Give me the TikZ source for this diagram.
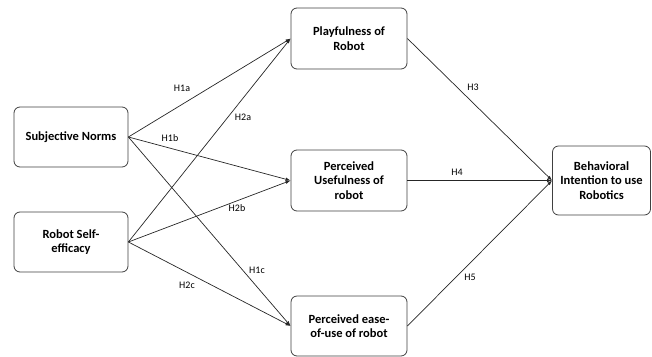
\documentclass[tikz,border=0pt]{standalone}
\usepackage{fontspec}
\setmainfont{Carlito}
\usetikzlibrary{arrows.meta}
\begin{document}
\begin{tikzpicture}[x=1pt,y=-1pt,
  box/.style={draw=black!75, line width=0.8pt, rounded corners=6pt, fill=white,
    font=\bfseries\fontsize{12.5}{14.5}\selectfont, align=center, inner sep=0pt},
  conn/.style={draw=black!85, line width=0.7pt, -{Latex[length=5pt,width=3.5pt]}},
  lbl/.style={font=\fontsize{10}{11}\selectfont, inner sep=0pt}]
\useasboundingbox (0,0) rectangle (652,356);
\node[box, minimum width=114pt, minimum height=60pt] (sn) at (71,137) {Subjective Norms};
\node[box, minimum width=114pt, minimum height=60pt] (se) at (71,242) {Robot Self-\\efficacy};
\node[box, minimum width=116pt, minimum height=61pt] (pr) at (349,38.5) {Playfulness of\\Robot};
\node[box, minimum width=116pt, minimum height=61pt] (pu) at (349,180.5) {Perceived\\Usefulness of\\robot};
\node[box, minimum width=116pt, minimum height=60pt] (pe) at (349,326) {Perceived ease-\\of-use of robot};
\node[box, minimum width=98pt, minimum height=69pt] (bi) at (601.5,180.5) {Behavioral\\Intention to use\\Robotics};
\draw[conn] (sn.east) -- (pr.west);
\draw[conn] (sn.east) -- (pu.west);
\draw[conn] (sn.east) -- (pe.west);
\draw[conn] (se.east) -- (pr.west);
\draw[conn] (se.east) -- (pu.west);
\draw[conn] (se.east) -- (pe.west);
\draw[conn] (pr.east) -- (bi.west);
\draw[conn] (pu.east) -- (bi.west);
\draw[conn] (pe.east) -- (bi.west);
\node[lbl] (h1a) at (182,88) {H1a};
\node[lbl] (h2a) at (243,117) {H2a};
\node[lbl] (h1b) at (170,138) {H1b};
\node[lbl] (h2b) at (237,208) {H2b};
\node[lbl] (h1c) at (257,270) {H1c};
\node[lbl] (h2c) at (187,285) {H2c};
\node[lbl] (h3) at (473,87) {H3};
\node[lbl] (h4) at (457,172) {H4};
\node[lbl] (h5) at (470,277) {H5};
\end{tikzpicture}
\end{document}
